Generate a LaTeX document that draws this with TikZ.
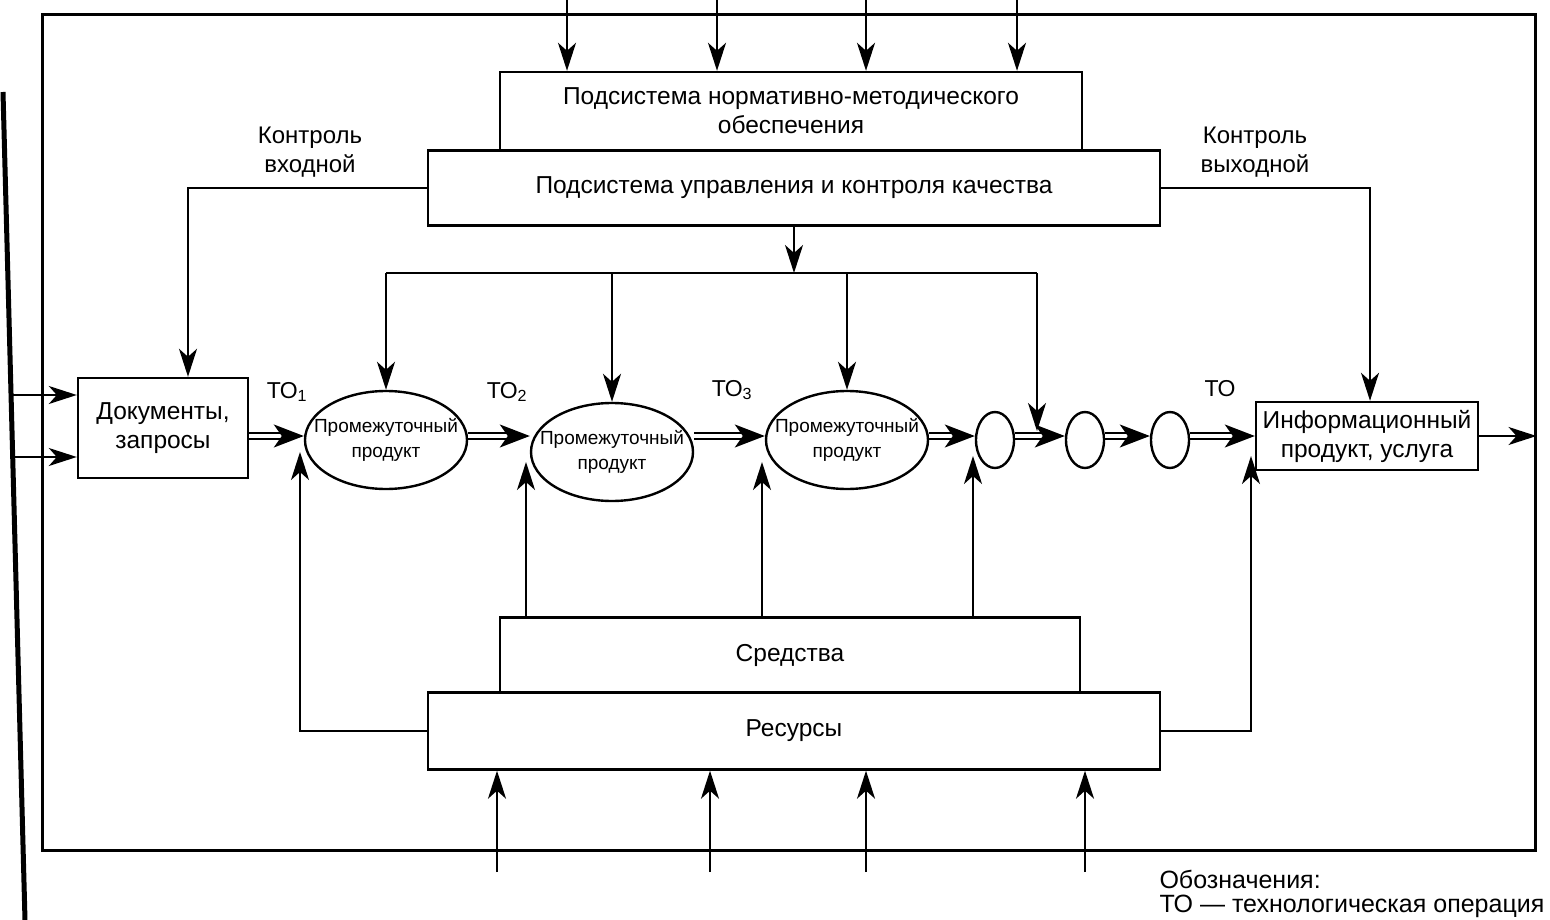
\documentclass[tikz,border=0pt]{standalone}
\usepackage{fontspec}
\setmainfont{Liberation Sans}
\usetikzlibrary{arrows.meta, shapes.geometric}
\begin{document}
\begin{tikzpicture}[x=1pt, y=-1pt,
  lw/.style={line width=2.2pt},
  box/.style={draw, line width=2.4pt, rectangle, inner sep=0pt, align=center, font=\fontsize{24.5}{29}\selectfont},
  oval/.style={draw, ellipse, line width=2.4pt, inner sep=0pt, minimum width=162pt, minimum height=98pt},
  ovaltext/.style={align=center, inner sep=0pt, font=\fontsize{19}{25}\selectfont},
  circ/.style={draw, ellipse, line width=2.4pt, minimum width=38pt, minimum height=56pt, inner sep=0pt},
  arr/.style={line width=2pt, -{Stealth[length=28pt, width=18pt, inset=8pt]}},
  dbl/.style={line width=1.9pt, double distance=3.4pt, shorten >=16pt},
  head/.style={line width=1.6pt, -{Stealth[length=30pt, width=23pt, inset=8pt]}},
  lbl/.style={align=center, font=\fontsize{24}{29}\selectfont},
  leg/.style={font=\fontsize{25}{27}\selectfont},
  tol/.style={font=\fontsize{23}{26}\selectfont}
]
\useasboundingbox (0,0) rectangle (1550,920);

% outer frame and page edge
\node[draw, line width=3pt, minimum width=1493pt, minimum height=835pt, inner sep=0pt] (frame) at (788.5,432.5) {};
\coordinate (edgeT) at (3,92);
\coordinate (edgeB) at (25,920);
\draw[line width=5pt] (edgeT) -- (edgeB);

% boxes
\node[box, minimum width=582pt, minimum height=78pt] (norm) at (791,111) {Подсистема нормативно-методического\\обеспечения};
\node[box, minimum width=732pt, minimum height=75pt] (qual) at (794,188) {Подсистема управления и контроля качества};
\node[box, minimum width=170pt, minimum height=100pt] (doc) at (163,428) {Документы,\\запросы};
\node[box, minimum width=222pt, minimum height=68pt] (inf) at (1367,436) {Информационный\\продукт, услуга};
\node[box, minimum width=580pt, minimum height=75pt] (sred) at (790,655) {Средства};
\node[box, minimum width=732pt, minimum height=77pt] (res) at (794,731) {Ресурсы};

% ovals and circles
\node[oval] (o1) at (386,440) {};
\node[oval] (o2) at (612,452) {};
\node[oval] (o3) at (847,440) {};
\node[ovaltext] (o1t) at (o1) {Промежуточный\\продукт};
\node[ovaltext] (o2t) at (o2) {Промежуточный\\продукт};
\node[ovaltext] (o3t) at (o3) {Промежуточный\\продукт};
\node[circ] (c1) at (995,440) {};
\node[circ] (c2) at (1085,440) {};
\node[circ] (c3) at (1170,440) {};

% labels
\node[lbl] (kin) at (310,152) {Контроль\\входной};
\node[lbl] (kout) at (1255,152) {Контроль\\выходной};
\node[tol] (to1) at (287,392) {ТО\textsubscript{1}};
\node[tol] (to2) at (507,392) {ТО\textsubscript{2}};
\node[tol] (to3) at (732,390) {ТО\textsubscript{3}};
\node[tol] (to4) at (1220,389) {ТО};
\node[leg, anchor=west] (leg1) at (1156,879) {Обозначения:};
\node[leg, anchor=west] (leg2) at (1156,906) {ТО — технологическая операция};

% top input arrows
\foreach \x [count=\i] in {567,717,866,1017} {
  \coordinate (t\i) at (\x,0);
  \draw[arr] (t\i) -- (t\i |- norm.north);
}
% bottom input arrows
\foreach \x [count=\i] in {497,710,866,1085} {
  \coordinate (b\i) at (\x,872);
  \draw[arr] (b\i) -- (b\i |- res.south);
}

% inputs to documents
\coordinate (in1) at (11,395);
\coordinate (in2) at (13,457);
\draw[arr] (in1) -- (in1 -| doc.west);
\draw[arr] (in2) -- (in2 -| doc.west);

% control lines
\draw[arr] (qual.west) -| ([xshift=25pt]doc.north);
\draw[arr] (qual.east) -| ([xshift=3pt]inf.north);

% distribution bus
\coordinate (bus) at (794,273);
\coordinate (d1) at (386,273);
\coordinate (d2) at (612,273);
\coordinate (d3) at (847,273);
\coordinate (d4) at (1037,273);
\coordinate (d4e) at (1037,431);
\draw[arr] (qual.south) -- (bus);
\draw[lw] (d1) -- (d4);
\draw[arr] (d1) -- (o1.north);
\draw[arr] (d2) -- (o2.north);
\draw[arr] (d3) -- (o3.north);
\draw[arr] (d4) -- (d4e);

% main chain (double lines with solid heads)
\coordinate (row) at (0,436);
\foreach \a/\b in {doc/o1, o1/o2, o2/o3, o3/c1, c1/c2, c2/c3, c3/inf} {
  \draw[dbl] (\a.east |- row) -- (\b.west |- row);
  \draw[head] ([xshift=-22pt]\b.west |- row) -- (\b.west |- row);
}
\draw[arr] (inf.east) -- (inf.east -| frame.east);

% resources / means
\coordinate (o1in) at (300,452);
\coordinate (o2in) at (526,462);
\coordinate (o3in) at (762,462);
\coordinate (c1in) at (973,456);
\coordinate (infin) at (1251,456);
\draw[arr] (res.west) -| (o1in);
\draw[arr] (res.east) -| (infin);
\draw[arr] (o2in |- sred.north) -- (o2in);
\draw[arr] (o3in |- sred.north) -- (o3in);
\draw[arr] (c1in |- sred.north) -- (c1in);
\end{tikzpicture}
\end{document}
